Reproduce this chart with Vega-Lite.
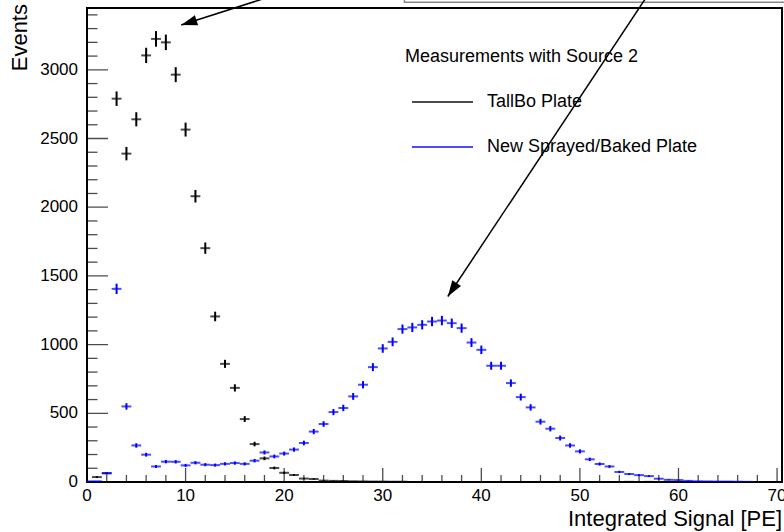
{
  "$schema": "https://vega.github.io/schema/vega-lite/v6.json",
  "width": 695,
  "height": 474,
  "autosize": {"type": "none"},
  "padding": {"left": 87, "top": 8, "right": 2, "bottom": 50},
  "background": "white",
  "config": {
    "view": {"stroke": "black", "strokeWidth": 2},
    "font": "Liberation Sans"
  },
  "datasets": {
    "tall": [
      {"x": 0, "v": 2, "e": 1.4, "s": "TallBo Plate"},
      {"x": 1, "v": 36, "e": 6, "s": "TallBo Plate"},
      {"x": 2, "v": 63, "e": 7.9, "s": "TallBo Plate"},
      {"x": 3, "v": 2790, "e": 52.8, "s": "TallBo Plate"},
      {"x": 4, "v": 2390, "e": 48.9, "s": "TallBo Plate"},
      {"x": 5, "v": 2640, "e": 51.4, "s": "TallBo Plate"},
      {"x": 6, "v": 3105, "e": 55.7, "s": "TallBo Plate"},
      {"x": 7, "v": 3225, "e": 56.8, "s": "TallBo Plate"},
      {"x": 8, "v": 3200, "e": 56.6, "s": "TallBo Plate"},
      {"x": 9, "v": 2965, "e": 54.5, "s": "TallBo Plate"},
      {"x": 10, "v": 2565, "e": 50.6, "s": "TallBo Plate"},
      {"x": 11, "v": 2080, "e": 45.6, "s": "TallBo Plate"},
      {"x": 12, "v": 1702, "e": 41.3, "s": "TallBo Plate"},
      {"x": 13, "v": 1205, "e": 34.7, "s": "TallBo Plate"},
      {"x": 14, "v": 860, "e": 29.3, "s": "TallBo Plate"},
      {"x": 15, "v": 685, "e": 26.2, "s": "TallBo Plate"},
      {"x": 16, "v": 458, "e": 21.4, "s": "TallBo Plate"},
      {"x": 17, "v": 276, "e": 16.6, "s": "TallBo Plate"},
      {"x": 18, "v": 172, "e": 13.1, "s": "TallBo Plate"},
      {"x": 19, "v": 102, "e": 10.1, "s": "TallBo Plate"},
      {"x": 20, "v": 67, "e": 8.2, "s": "TallBo Plate"},
      {"x": 21, "v": 51, "e": 7.1, "s": "TallBo Plate"},
      {"x": 22, "v": 25, "e": 5, "s": "TallBo Plate"},
      {"x": 23, "v": 22, "e": 4.7, "s": "TallBo Plate"},
      {"x": 24, "v": 10, "e": 3.2, "s": "TallBo Plate"},
      {"x": 25, "v": 8, "e": 2.8, "s": "TallBo Plate"},
      {"x": 26, "v": 7, "e": 2.6, "s": "TallBo Plate"},
      {"x": 27, "v": 5, "e": 2.2, "s": "TallBo Plate"},
      {"x": 28, "v": 4, "e": 2, "s": "TallBo Plate"},
      {"x": 29, "v": 3, "e": 1.7, "s": "TallBo Plate"},
      {"x": 30, "v": 3, "e": 1.7, "s": "TallBo Plate"},
      {"x": 31, "v": 2, "e": 1.4, "s": "TallBo Plate"},
      {"x": 32, "v": 2, "e": 1.4, "s": "TallBo Plate"},
      {"x": 55, "v": 1, "e": 1, "s": "TallBo Plate"},
      {"x": 57, "v": 1, "e": 1, "s": "TallBo Plate"}
    ],
    "newp": [
      {"x": 0, "v": 3, "e": 1.7, "s": "New Sprayed/Baked Plate"},
      {"x": 1, "v": 5, "e": 2.2, "s": "New Sprayed/Baked Plate"},
      {"x": 2, "v": 65, "e": 8.1, "s": "New Sprayed/Baked Plate"},
      {"x": 3, "v": 1406, "e": 37.5, "s": "New Sprayed/Baked Plate"},
      {"x": 4, "v": 550, "e": 23.5, "s": "New Sprayed/Baked Plate"},
      {"x": 5, "v": 266, "e": 16.3, "s": "New Sprayed/Baked Plate"},
      {"x": 6, "v": 199, "e": 14.1, "s": "New Sprayed/Baked Plate"},
      {"x": 7, "v": 113, "e": 10.6, "s": "New Sprayed/Baked Plate"},
      {"x": 8, "v": 148, "e": 12.2, "s": "New Sprayed/Baked Plate"},
      {"x": 9, "v": 147, "e": 12.1, "s": "New Sprayed/Baked Plate"},
      {"x": 10, "v": 121, "e": 11, "s": "New Sprayed/Baked Plate"},
      {"x": 11, "v": 140, "e": 11.8, "s": "New Sprayed/Baked Plate"},
      {"x": 12, "v": 126, "e": 11.2, "s": "New Sprayed/Baked Plate"},
      {"x": 13, "v": 123, "e": 11.1, "s": "New Sprayed/Baked Plate"},
      {"x": 14, "v": 132, "e": 11.5, "s": "New Sprayed/Baked Plate"},
      {"x": 15, "v": 138, "e": 11.7, "s": "New Sprayed/Baked Plate"},
      {"x": 16, "v": 132, "e": 11.5, "s": "New Sprayed/Baked Plate"},
      {"x": 17, "v": 155, "e": 12.4, "s": "New Sprayed/Baked Plate"},
      {"x": 18, "v": 215, "e": 14.7, "s": "New Sprayed/Baked Plate"},
      {"x": 19, "v": 186, "e": 13.6, "s": "New Sprayed/Baked Plate"},
      {"x": 20, "v": 207, "e": 14.4, "s": "New Sprayed/Baked Plate"},
      {"x": 21, "v": 236, "e": 15.4, "s": "New Sprayed/Baked Plate"},
      {"x": 22, "v": 284, "e": 16.9, "s": "New Sprayed/Baked Plate"},
      {"x": 23, "v": 367, "e": 19.2, "s": "New Sprayed/Baked Plate"},
      {"x": 24, "v": 422, "e": 20.5, "s": "New Sprayed/Baked Plate"},
      {"x": 25, "v": 509, "e": 22.6, "s": "New Sprayed/Baked Plate"},
      {"x": 26, "v": 539, "e": 23.2, "s": "New Sprayed/Baked Plate"},
      {"x": 27, "v": 623, "e": 25, "s": "New Sprayed/Baked Plate"},
      {"x": 28, "v": 708, "e": 26.6, "s": "New Sprayed/Baked Plate"},
      {"x": 29, "v": 836, "e": 28.9, "s": "New Sprayed/Baked Plate"},
      {"x": 30, "v": 972, "e": 31.2, "s": "New Sprayed/Baked Plate"},
      {"x": 31, "v": 1020, "e": 31.9, "s": "New Sprayed/Baked Plate"},
      {"x": 32, "v": 1113, "e": 33.4, "s": "New Sprayed/Baked Plate"},
      {"x": 33, "v": 1125, "e": 33.5, "s": "New Sprayed/Baked Plate"},
      {"x": 34, "v": 1144, "e": 33.8, "s": "New Sprayed/Baked Plate"},
      {"x": 35, "v": 1168, "e": 34.2, "s": "New Sprayed/Baked Plate"},
      {"x": 36, "v": 1175, "e": 34.3, "s": "New Sprayed/Baked Plate"},
      {"x": 37, "v": 1156, "e": 34, "s": "New Sprayed/Baked Plate"},
      {"x": 38, "v": 1120, "e": 33.5, "s": "New Sprayed/Baked Plate"},
      {"x": 39, "v": 1015, "e": 31.9, "s": "New Sprayed/Baked Plate"},
      {"x": 40, "v": 962, "e": 31, "s": "New Sprayed/Baked Plate"},
      {"x": 41, "v": 846, "e": 29.1, "s": "New Sprayed/Baked Plate"},
      {"x": 42, "v": 846, "e": 29.1, "s": "New Sprayed/Baked Plate"},
      {"x": 43, "v": 720, "e": 26.8, "s": "New Sprayed/Baked Plate"},
      {"x": 44, "v": 618, "e": 24.9, "s": "New Sprayed/Baked Plate"},
      {"x": 45, "v": 543, "e": 23.3, "s": "New Sprayed/Baked Plate"},
      {"x": 46, "v": 439, "e": 21, "s": "New Sprayed/Baked Plate"},
      {"x": 47, "v": 388, "e": 19.7, "s": "New Sprayed/Baked Plate"},
      {"x": 48, "v": 320, "e": 17.9, "s": "New Sprayed/Baked Plate"},
      {"x": 49, "v": 266, "e": 16.3, "s": "New Sprayed/Baked Plate"},
      {"x": 50, "v": 223, "e": 14.9, "s": "New Sprayed/Baked Plate"},
      {"x": 51, "v": 165, "e": 12.8, "s": "New Sprayed/Baked Plate"},
      {"x": 52, "v": 131, "e": 11.4, "s": "New Sprayed/Baked Plate"},
      {"x": 53, "v": 113, "e": 10.6, "s": "New Sprayed/Baked Plate"},
      {"x": 54, "v": 73, "e": 8.5, "s": "New Sprayed/Baked Plate"},
      {"x": 55, "v": 58, "e": 7.6, "s": "New Sprayed/Baked Plate"},
      {"x": 56, "v": 50, "e": 7.1, "s": "New Sprayed/Baked Plate"},
      {"x": 57, "v": 43, "e": 6.6, "s": "New Sprayed/Baked Plate"},
      {"x": 58, "v": 24, "e": 4.9, "s": "New Sprayed/Baked Plate"},
      {"x": 59, "v": 16, "e": 4, "s": "New Sprayed/Baked Plate"},
      {"x": 60, "v": 14, "e": 3.7, "s": "New Sprayed/Baked Plate"},
      {"x": 61, "v": 8, "e": 2.8, "s": "New Sprayed/Baked Plate"},
      {"x": 62, "v": 5, "e": 2.2, "s": "New Sprayed/Baked Plate"},
      {"x": 63, "v": 4, "e": 2, "s": "New Sprayed/Baked Plate"},
      {"x": 64, "v": 3, "e": 1.7, "s": "New Sprayed/Baked Plate"},
      {"x": 65, "v": 3, "e": 1.7, "s": "New Sprayed/Baked Plate"},
      {"x": 66, "v": 2, "e": 1.4, "s": "New Sprayed/Baked Plate"},
      {"x": 67, "v": 1, "e": 1, "s": "New Sprayed/Baked Plate"}
    ],
    "arrows": [
      {"a": "A", "x": 21.5, "y": 3600},
      {"a": "A", "x": 9.56, "y": 3326},
      {"a": "B", "x": 57.4, "y": 3600},
      {"a": "B", "x": 36.6, "y": 1350}
    ],
    "ymajor": [{"t": 0}, {"t": 500}, {"t": 1000}, {"t": 1500}, {"t": 2000}, {"t": 2500}, {"t": 3000}],
    "yminor": [{"t": 100}, {"t": 200}, {"t": 300}, {"t": 400}, {"t": 600}, {"t": 700}, {"t": 800}, {"t": 900}, {"t": 1100}, {"t": 1200}, {"t": 1300}, {"t": 1400}, {"t": 1600}, {"t": 1700}, {"t": 1800}, {"t": 1900}, {"t": 2100}, {"t": 2200}, {"t": 2300}, {"t": 2400}, {"t": 2600}, {"t": 2700}, {"t": 2800}, {"t": 2900}, {"t": 3100}, {"t": 3200}, {"t": 3300}, {"t": 3400}],
    "xmajor": [{"t": 0}, {"t": 10}, {"t": 20}, {"t": 30}, {"t": 40}, {"t": 50}, {"t": 60}, {"t": 70}],
    "xminor": [{"t": 2}, {"t": 4}, {"t": 6}, {"t": 8}, {"t": 12}, {"t": 14}, {"t": 16}, {"t": 18}, {"t": 22}, {"t": 24}, {"t": 26}, {"t": 28}, {"t": 32}, {"t": 34}, {"t": 36}, {"t": 38}, {"t": 42}, {"t": 44}, {"t": 46}, {"t": 48}, {"t": 52}, {"t": 54}, {"t": 56}, {"t": 58}, {"t": 62}, {"t": 64}, {"t": 66}, {"t": 68}]
  },
  "layer": [
    {
      "data": {"name": "tall"},
      "mark": {"type": "tick", "orient": "horizontal", "size": 9.86, "thickness": 2, "clip": true},
      "encoding": {
        "x": {"field": "x", "type": "quantitative", "scale": {"domain": [0, 70.5], "nice": false, "zero": false}, "axis": null},
        "y": {"field": "v", "type": "quantitative", "scale": {"domain": [0, 3450], "nice": false}, "axis": null},
        "color": {"field": "s", "type": "nominal", "scale": {"domain": ["TallBo Plate", "New Sprayed/Baked Plate"], "range": ["black", "#0000ff"]},
          "legend": {"orient": "none", "legendX": 318, "legendY": 40, "title": "Measurements with Source 2", "titleFontSize": 18, "titleFont": "Liberation Sans", "titleFontWeight": "normal", "titleColor": "black", "titlePadding": 26, "titleLimit": 600, "labelLimit": 600, "labelFontSize": 18, "labelFont": "Liberation Sans", "labelColor": "black", "symbolType": "stroke", "symbolSize": 3721, "symbolStrokeWidth": 2, "symbolOffset": 6, "labelOffset": 13, "clipHeight": 20, "rowPadding": 25}}
      }
    },
    {
      "data": {"values": [{"x1": 32.2, "x2": 76, "y1": 3492, "y2": 3800}]},
      "mark": {"type": "rect", "fill": "white", "stroke": "#888888", "strokeWidth": 1.5, "clip": false},
      "encoding": {
        "x": {"field": "x1", "type": "quantitative", "axis": null},
        "x2": {"field": "x2"},
        "y": {"field": "y1", "type": "quantitative", "axis": null},
        "y2": {"field": "y2"}
      }
    },
    {
      "data": {"name": "ymajor"},
      "mark": {"type": "tick", "orient": "horizontal", "size": 42, "thickness": 1.3, "color": "black", "clip": true},
      "encoding": {
        "x": {"datum": 0, "type": "quantitative", "axis": null},
        "y": {"field": "t", "type": "quantitative", "axis": null}
      }
    },
    {
      "data": {"name": "yminor"},
      "mark": {"type": "tick", "orient": "horizontal", "size": 21, "thickness": 1.3, "color": "black", "clip": true},
      "encoding": {
        "x": {"datum": 0, "type": "quantitative", "axis": null},
        "y": {"field": "t", "type": "quantitative", "axis": null}
      }
    },
    {
      "data": {"name": "xmajor"},
      "mark": {"type": "tick", "orient": "vertical", "size": 28, "thickness": 1.3, "color": "black", "clip": true},
      "encoding": {
        "x": {"field": "t", "type": "quantitative", "axis": null},
        "y": {"datum": 0, "type": "quantitative", "axis": null}
      }
    },
    {
      "data": {"name": "xminor"},
      "mark": {"type": "tick", "orient": "vertical", "size": 14, "thickness": 1.3, "color": "black", "clip": true},
      "encoding": {
        "x": {"field": "t", "type": "quantitative", "axis": null},
        "y": {"datum": 0, "type": "quantitative", "axis": null}
      }
    },
    {
      "data": {"name": "ymajor"},
      "mark": {"type": "text", "align": "right", "baseline": "middle", "dx": -9, "fontSize": 17, "font": "Liberation Sans", "color": "black", "clip": false},
      "encoding": {
        "x": {"datum": 0, "type": "quantitative", "axis": null},
        "y": {"field": "t", "type": "quantitative", "axis": null},
        "text": {"field": "t", "type": "quantitative", "format": "d"}
      }
    },
    {
      "data": {"name": "xmajor"},
      "mark": {"type": "text", "align": "center", "baseline": "top", "dy": 6, "fontSize": 17, "font": "Liberation Sans", "color": "black", "clip": false},
      "encoding": {
        "x": {"field": "t", "type": "quantitative", "axis": null},
        "y": {"datum": 0, "type": "quantitative", "axis": null},
        "text": {"field": "t", "type": "quantitative", "format": "d"}
      }
    },
    {
      "data": {"values": [{"label": "Integrated Signal [PE]"}]},
      "mark": {"type": "text", "align": "right", "baseline": "middle", "dy": 37, "fontSize": 22, "font": "Liberation Sans", "color": "black", "clip": false},
      "encoding": {
        "x": {"datum": 70.5, "type": "quantitative", "axis": null},
        "y": {"datum": 0, "type": "quantitative", "axis": null},
        "text": {"field": "label"}
      }
    },
    {
      "data": {"values": [{"label": "Events"}]},
      "mark": {"type": "text", "align": "right", "baseline": "middle", "angle": 270, "fontSize": 22, "font": "Liberation Sans", "color": "black", "clip": false},
      "encoding": {
        "x": {"datum": -6.84, "type": "quantitative", "axis": null},
        "y": {"datum": 3479, "type": "quantitative", "axis": null},
        "text": {"field": "label"}
      }
    },
    {
      "data": {"name": "tall"},
      "mark": {"type": "errorbar", "thickness": 2},
      "encoding": {
        "x": {"field": "x", "type": "quantitative", "axis": null},
        "y": {"field": "v", "type": "quantitative", "axis": null},
        "yError": {"field": "e"},
        "color": {"field": "s", "type": "nominal"}
      }
    },
    {
      "data": {"name": "newp"},
      "mark": {"type": "errorbar", "thickness": 2},
      "encoding": {
        "x": {"field": "x", "type": "quantitative", "axis": null},
        "y": {"field": "v", "type": "quantitative", "axis": null},
        "yError": {"field": "e"},
        "color": {"field": "s", "type": "nominal"}
      }
    },
    {
      "data": {"name": "newp"},
      "mark": {"type": "tick", "orient": "horizontal", "size": 9.86, "thickness": 2, "clip": true},
      "encoding": {
        "x": {"field": "x", "type": "quantitative", "axis": null},
        "y": {"field": "v", "type": "quantitative", "axis": null},
        "color": {"field": "s", "type": "nominal"}
      }
    },
    {
      "data": {"name": "arrows"},
      "mark": {"type": "line", "color": "black", "strokeWidth": 1.5, "clip": false},
      "encoding": {
        "x": {"field": "x", "type": "quantitative", "axis": null},
        "y": {"field": "y", "type": "quantitative", "axis": null},
        "detail": {"field": "a"}
      }
    },
    {
      "data": {"values": [{"x": 9.56, "y": 3326}]},
      "mark": {"type": "point", "shape": "M0,0L-0.65,2L0.65,2Z", "size": 256, "angle": 252.3, "filled": true, "color": "black", "opacity": 1, "clip": false},
      "encoding": {
        "x": {"field": "x", "type": "quantitative", "axis": null},
        "y": {"field": "y", "type": "quantitative", "axis": null}
      }
    },
    {
      "data": {"values": [{"x": 36.6, "y": 1350}]},
      "mark": {"type": "point", "shape": "M0,0L-0.65,2L0.65,2Z", "size": 256, "angle": 213.5, "filled": true, "color": "black", "opacity": 1, "clip": false},
      "encoding": {
        "x": {"field": "x", "type": "quantitative", "axis": null},
        "y": {"field": "y", "type": "quantitative", "axis": null}
      }
    }
  ]
}
